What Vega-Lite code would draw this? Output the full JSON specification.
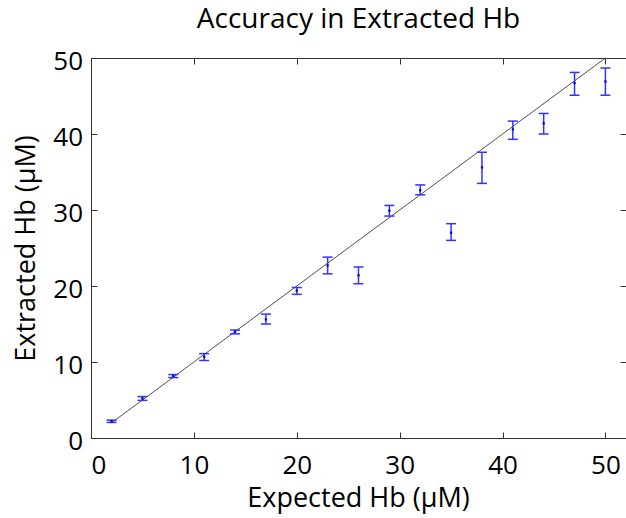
{
  "$schema": "https://vega.github.io/schema/vega-lite/v6.json",
  "width": 535,
  "height": 380,
  "autosize": {"type": "none"},
  "padding": {"left": 91, "top": 58, "right": 0, "bottom": 80},
  "background": "white",
  "title": {"text": "Accuracy in Extracted Hb", "fontSize": 28, "font": "Open Sans", "fontWeight": "normal", "color": "black", "offset": -8, "baseline": "alphabetic", "anchor": "middle"},
  "config": {
    "view": {"stroke": "#333", "strokeWidth": 1},
    "axis": {"grid": false, "domainColor": "#333", "tickColor": "#333", "labelFont": "Open Sans", "titleFont": "Open Sans", "labelFontSize": 26, "titleFontSize": 27, "labelColor": "black", "titleColor": "black", "titleFontWeight": "normal", "tickSize": -6}
  },
  "datasets": {
    "pts": [
      {"expected": 2, "extracted": 2.2, "lo": 2.05, "hi": 2.35},
      {"expected": 5, "extracted": 5.2, "lo": 4.95, "hi": 5.45},
      {"expected": 8, "extracted": 8.15, "lo": 7.95, "hi": 8.35},
      {"expected": 11, "extracted": 10.7, "lo": 10.2, "hi": 11.1},
      {"expected": 14, "extracted": 14.0, "lo": 13.7, "hi": 14.2},
      {"expected": 17, "extracted": 15.6, "lo": 15.0, "hi": 16.3},
      {"expected": 20, "extracted": 19.4, "lo": 18.9, "hi": 19.8},
      {"expected": 23, "extracted": 22.7, "lo": 21.6, "hi": 23.8},
      {"expected": 26, "extracted": 21.4, "lo": 20.3, "hi": 22.5},
      {"expected": 29, "extracted": 29.9, "lo": 29.2, "hi": 30.6},
      {"expected": 32, "extracted": 32.6, "lo": 32.0, "hi": 33.3},
      {"expected": 35, "extracted": 27.0, "lo": 26.0, "hi": 28.2},
      {"expected": 38, "extracted": 35.6, "lo": 33.5, "hi": 37.6},
      {"expected": 41, "extracted": 40.6, "lo": 39.3, "hi": 41.7},
      {"expected": 44, "extracted": 41.4, "lo": 40.0, "hi": 42.7},
      {"expected": 47, "extracted": 46.7, "lo": 45.1, "hi": 48.1},
      {"expected": 50, "extracted": 46.9, "lo": 45.1, "hi": 48.7}
    ],
    "fit": [
      {"expected": 2, "extracted": 2},
      {"expected": 50, "extracted": 50}
    ]
  },
  "resolve": {"axis": {"x": "independent", "y": "independent"}},
  "layer": [
    {
      "data": {"name": "fit"},
      "mark": {"type": "line", "color": "#222", "strokeWidth": 0.8},
      "encoding": {
        "x": {"field": "expected", "type": "quantitative", "scale": {"domain": [0, 52], "nice": false}, "axis": {"title": "Expected Hb (μM)", "values": [0, 10, 20, 30, 40, 50], "labelPadding": 20, "titleBaseline": "alphabetic", "titleY": 68, "titleX": 267}},
        "y": {"field": "extracted", "type": "quantitative", "scale": {"domain": [0, 50], "nice": false}, "axis": {"title": "Extracted Hb (μM)", "values": [0, 10, 20, 30, 40, 50], "labelPadding": 14.5, "labelOffset": 3, "titleBaseline": "alphabetic", "titleX": -57, "titleY": 190, "titleAngle": -90}}
      }
    },
    {
      "data": {"name": "pts"},
      "layer": [
        {
          "mark": {"type": "rule", "color": "#3333ff", "strokeWidth": 1.5},
          "encoding": {
            "x": {"field": "expected", "type": "quantitative"},
            "y": {"field": "lo", "type": "quantitative"},
            "y2": {"field": "hi"}
          }
        },
        {
          "mark": {"type": "tick", "orient": "horizontal", "color": "#3333ff", "size": 10, "thickness": 1.5, "opacity": 1},
          "encoding": {
            "x": {"field": "expected", "type": "quantitative"},
            "y": {"field": "lo", "type": "quantitative"}
          }
        },
        {
          "mark": {"type": "tick", "orient": "horizontal", "color": "#3333ff", "size": 10, "thickness": 1.5, "opacity": 1},
          "encoding": {
            "x": {"field": "expected", "type": "quantitative"},
            "y": {"field": "hi", "type": "quantitative"}
          }
        },
        {
          "mark": {"type": "point", "shape": "square", "filled": true, "color": "#0000cc", "size": 5, "opacity": 1},
          "encoding": {
            "x": {"field": "expected", "type": "quantitative", "axis": {"orient": "top", "labels": false, "title": null, "values": [0, 10, 20, 30, 40, 50], "domain": true}},
            "y": {"field": "extracted", "type": "quantitative", "axis": {"orient": "right", "labels": false, "title": null, "values": [0, 10, 20, 30, 40, 50], "domain": true}}
          }
        }
      ]
    }
  ]
}
